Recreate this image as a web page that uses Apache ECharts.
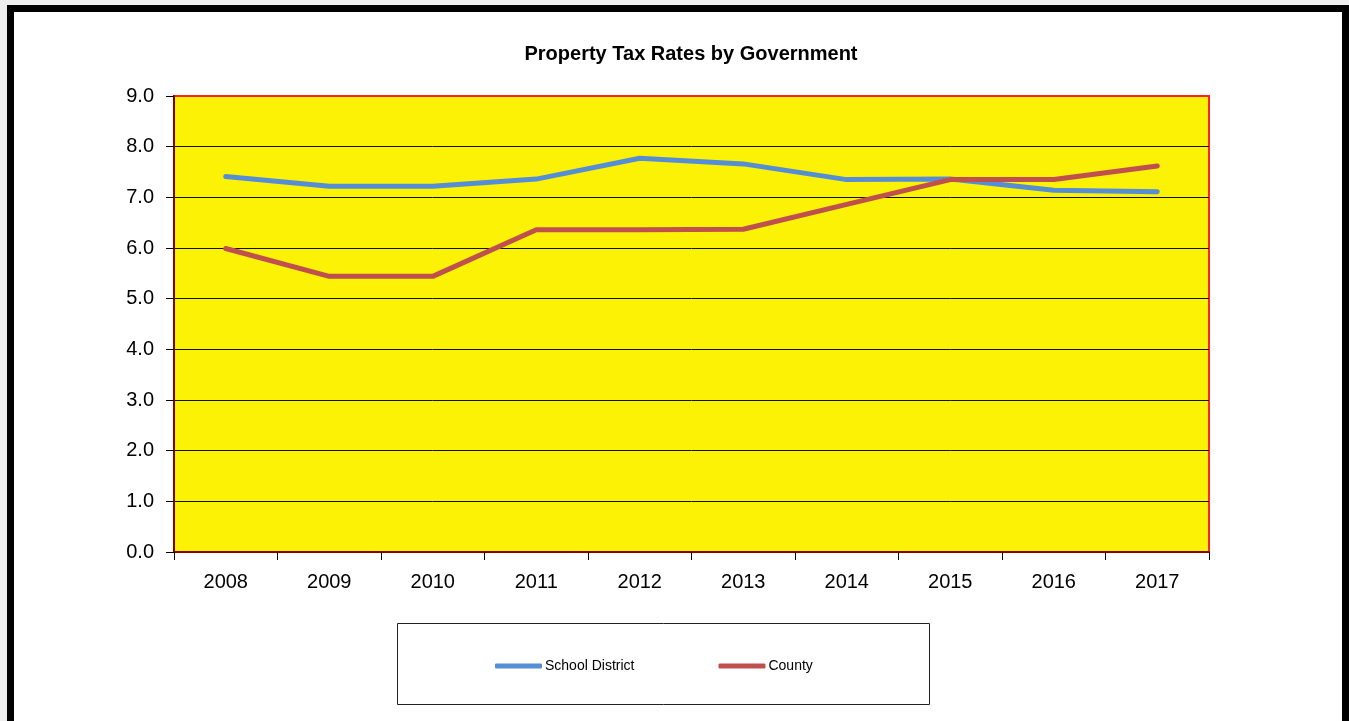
<!DOCTYPE html>
<html>
<head>
<meta charset="utf-8">
<script src="https://cdn.jsdelivr.net/npm/echarts@6/dist/echarts.min.js"></script>
<style>
  html, body { margin: 0; padding: 0; background: #eeeeee; }
  #chart { width: 1349px; height: 721px; }
</style>
</head>
<body>
<div id="chart"></div>
<script>
// Tax years shown on the category axis
const years = ['2008', '2009', '2010', '2011', '2012', '2013', '2014', '2015', '2016', '2017'];

// Property tax rates per government
const schoolDistrict = [7.41, 7.22, 7.22, 7.36, 7.77, 7.66, 7.35, 7.36, 7.14, 7.11];
const county = [5.99, 5.44, 5.44, 6.36, 6.36, 6.37, 6.86, 7.35, 7.35, 7.62];

const seriesNames = ['School District', 'County'];
const chartTitle = 'Property Tax Rates by Government';

const narrow = "'Liberation Sans Narrow', 'Arial Narrow', 'Liberation Sans', sans-serif";

const chart = echarts.init(document.getElementById('chart'), null, { renderer: 'canvas' });

chart.setOption({
  backgroundColor: '#eeeeee',
  animation: false,
  title: {
    text: chartTitle,
    left: 686,
    textAlign: 'center',
    top: 39,
    textStyle: { fontFamily: narrow, fontWeight: 'bold', fontSize: 20, color: '#000' }
  },
  graphic: [
    {
      type: 'rect',
      z: -10,
      shape: { x: 10.5, y: 8.5, width: 1335, height: 760 },
      style: { fill: '#ffffff', stroke: '#000000', lineWidth: 7 }
    },
    {
      type: 'rect',
      z: -5,
      shape: { x: 397.5, y: 623.5, width: 532, height: 81 },
      style: { fill: '#ffffff', stroke: '#222222', lineWidth: 1 }
    }
  ],
  legend: {
    data: seriesNames,
    left: 490,
    top: 654,
    itemWidth: 47,
    itemHeight: 5,
    itemGap: 84,
    icon: 'roundRect',
    textStyle: { fontFamily: narrow, fontSize: 14, color: '#000', padding: [0, 0, 0, -2] }
  },
  grid: {
    left: 174,
    right: 140,
    top: 96,
    bottom: 169,
    show: true,
    backgroundColor: '#FCF205',
    borderColor: '#FF2222',
    borderWidth: 2
  },
  xAxis: {
    type: 'category',
    data: years,
    boundaryGap: true,
    axisLine: { show: true, lineStyle: { color: '#8B0000', width: 2 } },
    axisTick: { show: true, length: 8, lineStyle: { color: '#000', width: 1 } },
    axisLabel: { margin: 20, fontFamily: narrow, fontSize: 20, color: '#000' },
    splitLine: { show: false }
  },
  yAxis: {
    type: 'value',
    min: 0,
    max: 9,
    interval: 1,
    axisLine: { show: true, lineStyle: { color: '#8B0000', width: 2 } },
    axisTick: { show: true, length: 8, lineStyle: { color: '#000', width: 1 } },
    axisLabel: {
      margin: 20,
      fontFamily: narrow,
      fontSize: 20,
      color: '#000',
      formatter: v => v.toFixed(1)
    },
    splitLine: { show: true, showMinLine: false, showMaxLine: false, lineStyle: { color: '#111100', width: 1 } }
  },
  series: [
    {
      name: seriesNames[0],
      type: 'line',
      data: schoolDistrict,
      symbol: 'none',
      color: '#558ED5',
      lineStyle: { width: 5, color: '#558ED5', cap: 'round', join: 'round' }
    },
    {
      name: seriesNames[1],
      type: 'line',
      data: county,
      symbol: 'none',
      color: '#C0504D',
      lineStyle: { width: 5, color: '#C0504D', cap: 'round', join: 'round' }
    }
  ]
});
</script>
</body>
</html>
